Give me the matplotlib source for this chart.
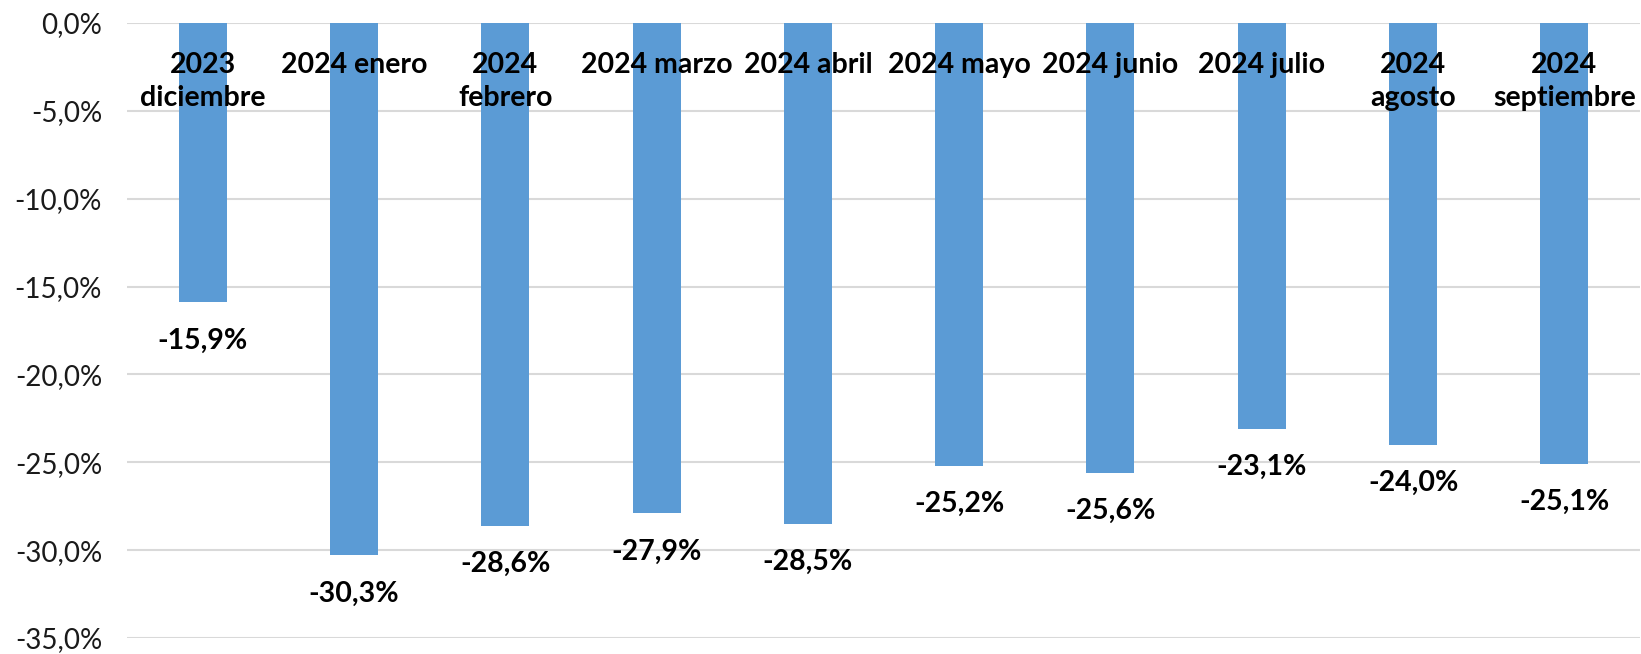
import numpy as np
import matplotlib.pyplot as plt
from matplotlib.ticker import FuncFormatter

# categories and values
meses = ["2023\ndiciembre", "2024 enero", "2024\nfebrero", "2024 marzo", "2024 abril",
         "2024 mayo", "2024 junio", "2024 julio", "2024\nagosto", "2024\nseptiembre"]
variacion = [-15.9, -30.3, -28.6, -27.9, -28.5, -25.2, -25.6, -23.1, -24.0, -25.1]
ticks_y = [0, -5, -10, -15, -20, -25, -30, -35]

plt.rcParams['font.family'] = ['Lato', 'DejaVu Sans']

fig = plt.figure(figsize=(16.41, 6.54), dpi=100)
ax = fig.add_axes([0.0774, 0.0245, 0.9220, 0.9403])

x = np.arange(len(meses))
ax.bar(x, variacion, width=0.317, color="#5B9BD5", zorder=3)

ax.set_xlim(-0.5, len(meses) - 0.5)
ax.set_ylim(-35, 0)
ax.set_yticks(ticks_y)
ax.yaxis.set_major_formatter(FuncFormatter(lambda v, p: f"{v:.1f}%".replace(".", ",")))
ax.tick_params(axis='y', length=0, pad=18, labelsize=20, labelcolor="#1a1a1a")
ax.set_xticks([])
ax.grid(axis='y', color="#D9D9D9", linewidth=1.5, zorder=0)
ax.set_axisbelow(True)
for s in ax.spines.values():
    s.set_visible(False)

# category labels hanging from the zero line
for i, m in enumerate(meses):
    ax.annotate(m, xy=(i, 0), xytext=(0, -21), textcoords='offset points',
                ha='center', va='top', fontsize=20.5, fontweight='bold',
                linespacing=1.32, zorder=5)

# value labels below each bar
for i, v in enumerate(variacion):
    txt = f"{v:.1f}%".replace(".", ",")
    ax.annotate(txt, xy=(i, v), xytext=(0, -27.5), textcoords='offset points',
                ha='center', va='center', fontsize=20.5, fontweight='bold', zorder=5)

fig.savefig("out.png", dpi=100)
